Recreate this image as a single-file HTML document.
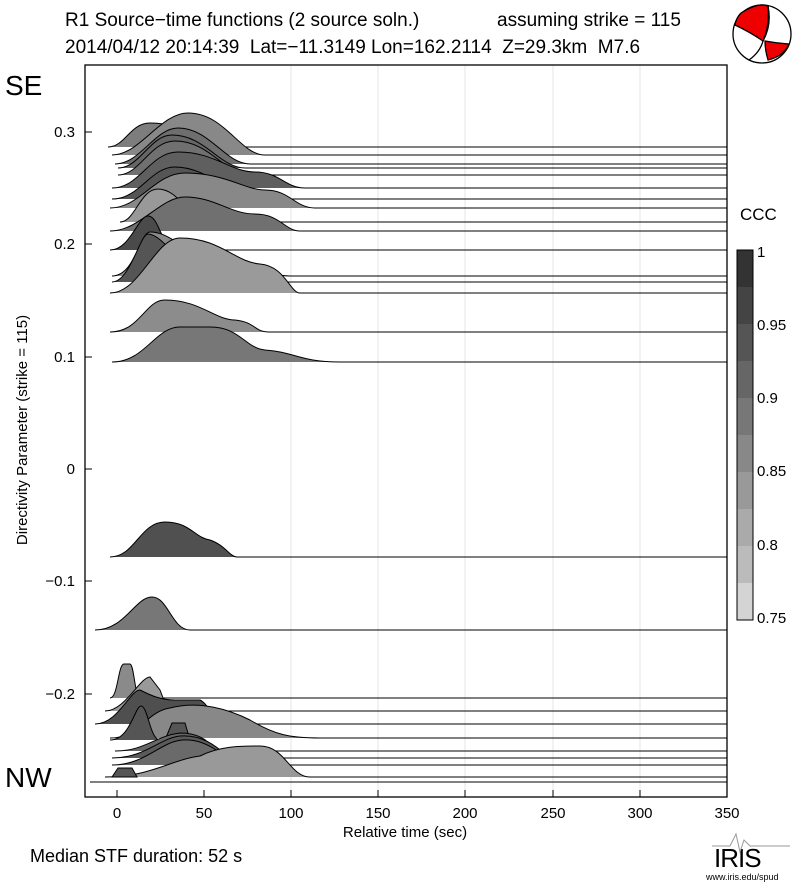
<!DOCTYPE html><html><head><style>body{margin:0;background:#fff}svg{display:block}text{font-family:"Liberation Sans",sans-serif;white-space:pre}</style></head><body>
<svg width="800" height="887" xmlns="http://www.w3.org/2000/svg">
<text x="65" y="26" font-size="19">R1 Source−time functions (2 source soln.)</text>
<text x="497" y="26" font-size="19">assuming strike = 115</text>
<text x="65" y="53" font-size="19" xml:space="preserve">2014/04/12 20:14:39  Lat=−11.3149 Lon=162.2114  Z=29.3km  M7.6</text>
<g stroke="#000" stroke-width="1.3">
<circle cx="762" cy="34" r="29" fill="#fff"/>
<path d="M741,13 Q758,2 768,6 Q770,25 763,41 Q750,32 735,25 Q736,18 741,13Z" fill="#e00"/>
<path d="M765,41 Q776,43 789,44 Q784,56 768,60 Q765,50 765,41Z" fill="#e00"/>
<path d="M768,6 Q772,25 763,41 Q760,52 749,60" fill="none"/>
</g>
<g stroke="#e6e6e6" stroke-width="1"><line x1="291" y1="65" x2="291" y2="797"/><line x1="378" y1="65" x2="378" y2="797"/><line x1="465" y1="65" x2="465" y2="797"/><line x1="553" y1="65" x2="553" y2="797"/><line x1="640" y1="65" x2="640" y2="797"/></g>
<g stroke="#000" stroke-width="1">
<path d="M108,147 C125,147 130,123 150,123 C190,123 215,147 245,147 L727,147" fill="#7d7d7d"/>
<path d="M112,155 C140,155 160,113 188,113 C225,113 240,155 265,155 L727,155" fill="#888"/>
<path d="M115,164 C140,164 155,128 178,128 C210,128 225,164 250,164 L727,164" fill="#6e6e6e"/>
<path d="M118,168 C140,168 150,135 172,135 C205,135 220,168 245,168 L727,168" fill="#666"/>
<path d="M118,175 C140,175 150,141 175,141 C210,141 225,175 250,175 L727,175" fill="#707070"/>
<path d="M112,188 C140,188 150,152 178,152 C215,152 230,172 255,172 C280,172 285,188 305,188 L727,188" fill="#5f5f5f"/>
<path d="M112,199 C140,199 150,167 175,167 C210,167 230,199 260,199 L727,199" fill="#555"/>
<path d="M110,208 C140,208 155,173 185,173 C225,173 245,190 265,190 C290,190 295,208 315,208 L727,208" fill="#888"/>
<path d="M120,222 C135,222 140,189 158,189 C180,189 190,222 210,222 L727,222" fill="#999"/>
<path d="M110,231 C140,231 160,197 185,197 C215,197 230,214 255,214 C280,214 285,231 300,231 L727,231" fill="#707070"/>
<path d="M110,250 C130,250 138,216 148,216 C158,216 160,240 168,240 C185,245 195,250 205,250 L727,250" fill="#4a4a4a"/>
<path d="M112,276 C135,276 140,232 150,232 C170,232 180,250 200,250 L230,258 C260,260 265,276 290,276 L727,276" fill="#8a8a8a"/>
<path d="M112,282 C130,282 140,234 148,234 C158,234 170,250 180,260 C185,270 185,282 185,282 L727,282" fill="#555"/>
<path d="M110,293 C140,293 155,238 180,238 C220,238 235,262 260,264 C285,266 290,293 300,293 L727,293" fill="#9a9a9a"/>
<path d="M110,332 C140,332 145,300 165,300 C200,300 215,320 235,320 C255,322 255,332 268,332 L727,332" fill="#8c8c8c"/>
<path d="M112,362 C145,362 155,327 180,327 L210,327 C240,327 245,348 265,350 C295,352 300,362 340,362 L727,362" fill="#777"/>
<path d="M110,557 C135,557 140,522 165,522 C190,522 195,538 210,540 C225,545 230,557 237,557 L727,557" fill="#505050"/>
<path d="M95,630 C125,630 135,597 152,597 C168,597 172,630 190,630 L727,630" fill="#777"/>
<path d="M110,698 C118,698 118,664 124,664 L130,664 C134,664 135,698 140,698 L727,698" fill="#8a8a8a"/>
<path d="M105,711 C125,711 140,677 150,677 L160,690 L168,711 L727,711" fill="#999"/>
<path d="M95,724 C118,724 130,690 140,690 C150,695 160,700 175,700 L200,700 C210,705 215,724 215,724 L727,724" fill="#4f4f4f"/>
<path d="M110,738 C140,738 145,712 170,708 C200,700 230,710 250,720 C275,735 290,738 320,738 L727,738" fill="#888"/>
<path d="M110,740 C130,740 135,706 141,706 C148,706 150,740 160,740" fill="#555"/>
<path d="M165,740 L172,723 L185,723 L190,740Z" fill="#555"/>
<path d="M115,751 C145,751 155,736 180,733 C200,733 210,742 215,751 L727,751" fill="#666"/>
<path d="M112,758 C145,758 160,738 180,736 C205,734 220,750 230,758 L727,758" fill="#5a5a5a"/>
<path d="M112,765 C145,765 160,742 182,740 C205,738 225,755 232,765 L727,765" fill="#6a6a6a"/>
<path d="M105,777 C150,777 170,760 200,756 C220,746 240,746 260,746 C285,746 290,777 310,777 L727,777" fill="#999"/>
<path d="M112,777 L118,768 L132,768 L137,777Z" fill="#555"/>
<line x1="90" y1="782" x2="727" y2="782"/>
</g>
<rect x="85" y="65" width="642" height="732" fill="none" stroke="#000" stroke-width="1.3"/>
<g stroke="#000"><line x1="85" y1="132" x2="92" y2="132"/><line x1="85" y1="244" x2="92" y2="244"/><line x1="85" y1="357" x2="92" y2="357"/><line x1="85" y1="469" x2="92" y2="469"/><line x1="85" y1="581" x2="92" y2="581"/><line x1="85" y1="694" x2="92" y2="694"/>
<line x1="117" y1="797" x2="117" y2="790"/><line x1="204" y1="797" x2="204" y2="790"/><line x1="291" y1="797" x2="291" y2="790"/><line x1="378" y1="797" x2="378" y2="790"/><line x1="465" y1="797" x2="465" y2="790"/><line x1="553" y1="797" x2="553" y2="790"/><line x1="640" y1="797" x2="640" y2="790"/></g>
<g font-size="15" text-anchor="end"><text x="75" y="137">0.3</text><text x="75" y="249">0.2</text><text x="75" y="362">0.1</text><text x="75" y="474">0</text><text x="75" y="586">−0.1</text><text x="75" y="699">−0.2</text></g>
<g font-size="15" text-anchor="middle"><text x="117" y="818">0</text><text x="204" y="818">50</text><text x="291" y="818">100</text><text x="378" y="818">150</text><text x="465" y="818">200</text><text x="553" y="818">250</text><text x="640" y="818">300</text><text x="727" y="818">350</text>
<text x="405" y="837">Relative time (sec)</text></g>
<text transform="translate(27,430) rotate(-90)" font-size="15" text-anchor="middle">Directivity Parameter (strike = 115)</text>
<text x="5" y="95" font-size="28">SE</text><text x="5" y="787" font-size="28">NW</text>
<text x="30" y="862" font-size="18">Median STF duration: 52 s</text>
<text x="740" y="220" font-size="17">CCC</text>
<g>
<rect x="737" y="250" width="16" height="37" fill="#333"/><rect x="737" y="287" width="16" height="37" fill="#444"/><rect x="737" y="324" width="16" height="37" fill="#555"/><rect x="737" y="361" width="16" height="37" fill="#666"/><rect x="737" y="398" width="16" height="37" fill="#777"/><rect x="737" y="435" width="16" height="37" fill="#888"/><rect x="737" y="472" width="16" height="37" fill="#999"/><rect x="737" y="509" width="16" height="37" fill="#aaa"/><rect x="737" y="546" width="16" height="37" fill="#bbb"/><rect x="737" y="583" width="16" height="37" fill="#d4d4d4"/>
<rect x="737" y="250" width="16" height="370" fill="none" stroke="#000"/></g>
<g font-size="15"><text x="757" y="257">1</text><text x="757" y="330">0.95</text><text x="757" y="403">0.9</text><text x="757" y="476">0.85</text><text x="757" y="550">0.8</text><text x="757" y="623">0.75</text></g>
<text x="714" y="867" font-size="26" font-family="Liberation Serif" letter-spacing="-1">IRIS</text>
<path d="M712,846 L730,846 L736,834 L740,852 L744,840 L750,846 L790,846" stroke="#999" fill="none"/>
<text x="706" y="880" font-size="9">www.iris.edu/spud</text>
</svg></body></html>
